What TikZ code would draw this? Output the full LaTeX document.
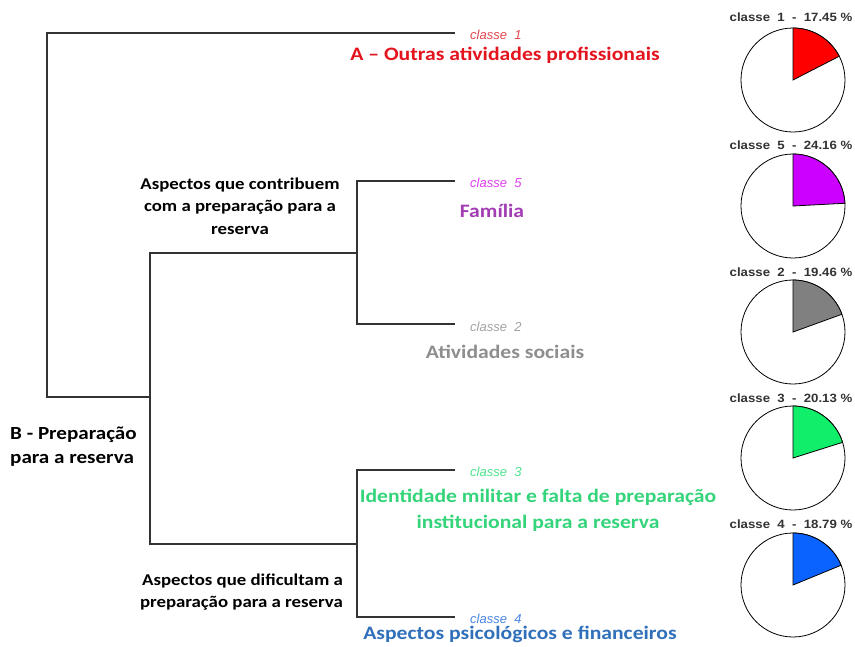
\documentclass[tikz,border=0pt]{standalone}
\usepackage{fontspec}
\setmainfont{Carlito}[FakeStretch=1.14]
\newfontfamily\arialfont{Liberation Sans}
\newfontfamily\arialwide{Liberation Sans}[FakeStretch=1.1]
\usetikzlibrary{calc}
\definecolor{corA}{HTML}{E3141E}
\definecolor{corFam}{HTML}{A23DB4}
\definecolor{corSoc}{HTML}{8E8E8E}
\definecolor{corMil}{HTML}{34D47A}
\definecolor{corPsi}{HTML}{3070BA}
\definecolor{cl1}{HTML}{E4474E}
\definecolor{cl5}{HTML}{E03EF0}
\definecolor{cl2}{HTML}{A2A2A2}
\definecolor{cl3}{HTML}{4CE58E}
\definecolor{cl4}{HTML}{4A86E6}
\definecolor{pie1}{HTML}{FF0000}
\definecolor{pie5}{HTML}{CC00FF}
\definecolor{pie2}{HTML}{808080}
\definecolor{pie3}{HTML}{11EE6A}
\definecolor{pie4}{HTML}{0A62FF}
\def\fatia[#1](#2)(#3:#4){\draw[#1] (#2) -- ($(#2)+(0,#4)$) arc (90:{90-3.6*#3}:#4) -- cycle;}
\tikzset{
  classe/.style={font=\arialfont\itshape\fontsize{13}{15}\selectfont, inner sep=0pt},
  grupo/.style={font=\bfseries\fontsize{19}{26}\selectfont, inner sep=0pt, align=center},
  rotulo/.style={font=\bfseries\fontsize{16.5}{22.5}\selectfont, inner sep=0pt},
  titulo/.style={font=\arialwide\bfseries\fontsize{12}{14}\selectfont, inner sep=0pt, text=black!80},
  ramo/.style={line width=1.1pt, black!80}
}
\begin{document}
\begin{tikzpicture}[x=1pt,y=1pt]
		%%%%% START %%%%%
		\useasboundingbox[fill=white] (0,0) rectangle (855,-646);
		
		% dendrograma
		\coordinate (raiz) at (47,-397);
		\coordinate (nB) at (150,-397);
		\coordinate (nC) at (357,-253);
		\coordinate (nD) at (357,-544);
		\coordinate (c1) at (455,-33);
		\coordinate (c5) at (455,-181);
		\coordinate (c2) at (455,-324);
		\coordinate (c3) at (455,-470);
		\coordinate (c4) at (455,-617);
		
		\draw[ramo] (c1) -| (raiz) -- (nB);
		\draw[ramo] (nC) -| (nB) |- (nD);
		\draw[ramo] (c5) -| (nC) |- (c2);
		\draw[ramo] (c3) -| (nD) |- (c4);
		
		% classes
		\node[classe, text=cl1, anchor=west] (t1) at (470,-35) {classe\ \ 1};
		\node[classe, text=cl5, anchor=west] (t5) at (470,-183) {classe\ \ 5};
		\node[classe, text=cl2, anchor=west] (t2) at (470,-327) {classe\ \ 2};
		\node[classe, text=cl3, anchor=west] (t3) at (470,-472) {classe\ \ 3};
		\node[classe, text=cl4, anchor=west] (t4) at (470,-619) {classe\ \ 4};
		
		\node[grupo, text=corA] (gA) at (505,-55) {A -- Outras atividades profissionais};
		\node[grupo, text=corFam] (gFam) at (492,-211) {Família};
		\node[grupo, text=corSoc] (gSoc) at (505,-352) {Atividades sociais};
		\node[grupo, text=corMil] (gMil) at (538,-510) {Identidade militar e falta de preparação\\institucional para a reserva};
		\node[grupo, text=corPsi] (gPsi) at (520,-634) {Aspectos psicológicos e financeiros};
		
		\node[rotulo, align=center] (contrib) at (240,-206) {Aspectos que contribuem\\com a preparação para a\\reserva};
		\node[rotulo, align=left, anchor=west, font=\bfseries\fontsize{18.5}{24}\selectfont] (prepB) at (10,-447) {B - Preparação\\para a reserva};
		\node[rotulo, align=right, anchor=east] (dific) at (343,-592) {Aspectos que dificultam a\\preparação para a reserva};
		
		% pizzas
		\coordinate (p1) at (793,-80);
		\coordinate (p5) at (793,-206);
		\coordinate (p2) at (793,-332);
		\coordinate (p3) at (793,-458);
		\coordinate (p4) at (793,-585);
		
		\draw[line width=0.8pt, fill=white] (p1) circle (52);
		\fatia[line width=0.8pt, fill=pie1](p1)(17.45:52);
		\node[titulo] (h1) at (791,-17) {classe\ \ 1\ \ -\ \ 17.45 \%};
		
		\draw[line width=0.8pt, fill=white] (p5) circle (52);
		\fatia[line width=0.8pt, fill=pie5](p5)(24.16:52);
		\node[titulo] (h5) at (791,-145) {classe\ \ 5\ \ -\ \ 24.16 \%};
		
		\draw[line width=0.8pt, fill=white] (p2) circle (52);
		\fatia[line width=0.8pt, fill=pie2](p2)(19.46:52);
		\node[titulo] (h2) at (791,-272) {classe\ \ 2\ \ -\ \ 19.46 \%};
		
		\draw[line width=0.8pt, fill=white] (p3) circle (52);
		\fatia[line width=0.8pt, fill=pie3](p3)(20.13:52);
		\node[titulo] (h3) at (791,-398) {classe\ \ 3\ \ -\ \ 20.13 \%};
		
		\draw[line width=0.8pt, fill=white] (p4) circle (52);
		\fatia[line width=0.8pt, fill=pie4](p4)(18.79:52);
		\node[titulo] (h4) at (791,-524) {classe\ \ 4\ \ -\ \ 18.79 \%};
		
		%%%%% END %%%%%
\end{tikzpicture}
\end{document}
